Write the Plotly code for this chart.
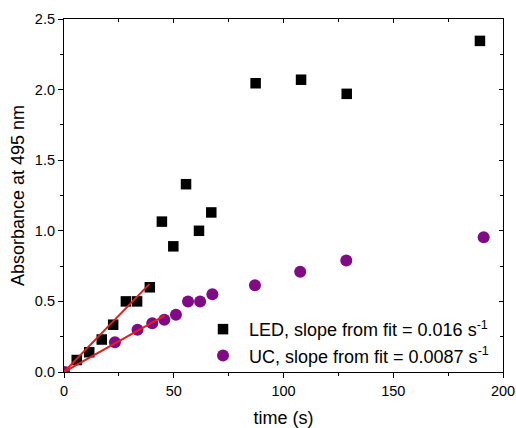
import plotly.graph_objects as go

led_t = [0, 5.8, 11.5, 17.2, 22.4, 28.2, 33.3, 39.1, 44.6, 49.8, 55.6, 61.5, 67.1, 87.3, 108.0, 128.8, 189.5]
led_a = [0, 0.085, 0.14, 0.23, 0.335, 0.50, 0.50, 0.60, 1.065, 0.89, 1.33, 1.00, 1.13, 2.045, 2.07, 1.97, 2.345]

uc_t = [0, 23.2, 33.5, 40.2, 45.7, 51.0, 56.5, 62.0, 67.6, 87.0, 107.6, 128.6, 191.2]
uc_a = [0, 0.21, 0.30, 0.345, 0.37, 0.405, 0.50, 0.50, 0.55, 0.615, 0.71, 0.79, 0.955]

led_slope = 0.016
uc_slope = 0.0087
led_fit_t = [0, 39]
uc_fit_t = [0, 46]

led_label = "LED, slope from fit = 0.016 s<sup>-1</sup>"
uc_label = "UC, slope from fit = 0.0087 s<sup>-1</sup>"

font = "Liberation Sans, Arial, sans-serif"
red = "rgb(222,32,32)"
purple = "#810a85"

fig = go.Figure()
fig.add_trace(go.Scatter(x=led_t, y=led_a, mode="markers", name=led_label,
                         marker=dict(symbol="square", size=10.5, color="black"), cliponaxis=True))
fig.add_trace(go.Scatter(x=uc_t, y=uc_a, mode="markers", name=uc_label,
                         marker=dict(symbol="circle", size=12, color=purple), cliponaxis=True))
fig.add_trace(go.Scatter(x=led_fit_t, y=[led_slope * t for t in led_fit_t], mode="lines",
                         line=dict(color=red, width=2), showlegend=False))
fig.add_trace(go.Scatter(x=uc_fit_t, y=[uc_slope * t for t in uc_fit_t], mode="lines",
                         line=dict(color=red, width=2), showlegend=False))
# dummy trace for the mirrored (inward-tick) top/right axes
fig.add_trace(go.Scatter(x=[None], y=[None], xaxis="x2", yaxis="y2", showlegend=False, hoverinfo="skip"))

line_common = dict(showline=True, linecolor="black", linewidth=1.2, showgrid=False, zeroline=False,
                   tickcolor="black", automargin=False)
tickfont = dict(family=font, size=14.5, color="black")

fig.update_layout(
    width=516, height=428,
    margin=dict(l=64, r=13, t=19, b=56),
    paper_bgcolor="white", plot_bgcolor="white",
    font=dict(family=font, color="black"),
    xaxis=dict(range=[0, 200], dtick=50, ticks="outside", ticklen=5, tickwidth=1.2, tickfont=tickfont,
               minor=dict(dtick=25, ticks="outside", ticklen=3, tickwidth=1.2, tickcolor="black"),
               title=dict(text="time (s)", font=dict(family=font, size=18), standoff=14),
               **line_common),
    yaxis=dict(range=[0, 2.5], dtick=0.5, tickformat=".1f", ticks="outside", ticklen=5, tickwidth=1.2,
               tickfont=tickfont,
               minor=dict(dtick=0.25, ticks="outside", ticklen=3, tickwidth=1.2, tickcolor="black"),
               title=dict(text="Absorbance at 495 nm", font=dict(family=font, size=18), standoff=5),
               **line_common),
    xaxis2=dict(range=[0, 200], overlaying="x", side="top", dtick=50, ticks="inside", ticklen=4,
                tickwidth=1.2, showticklabels=False,
                minor=dict(dtick=25, ticks="inside", ticklen=3, tickwidth=1.2, tickcolor="black"),
                **line_common),
    yaxis2=dict(range=[0, 2.5], overlaying="y", side="right", dtick=0.5, ticks="inside", ticklen=4,
                tickwidth=1.2, showticklabels=False,
                minor=dict(dtick=0.25, ticks="inside", ticklen=3, tickwidth=1.2, tickcolor="black"),
                **line_common),
    legend=dict(x=0.303, y=0.173, xanchor="left", yanchor="top", bgcolor="rgba(0,0,0,0)",
                font=dict(family=font, size=18, color="black"), itemwidth=42, tracegroupgap=0),
    showlegend=True,
)

fig.write_html("out.html", config={"displayModeBar": False},
               post_script="document.body.style.margin='0';document.body.style.overflow='hidden';")
